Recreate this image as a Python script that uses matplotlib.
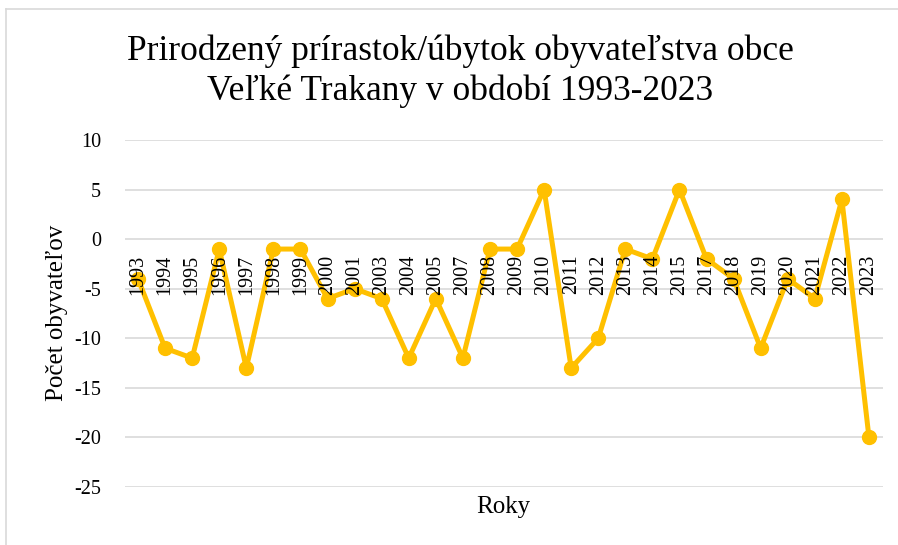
import matplotlib.pyplot as plt
from matplotlib.lines import Line2D

# data
roky = ["1993", "1994", "1995", "1996", "1997", "1998", "1999", "2000", "2001",
        "2003", "2004", "2005", "2007", "2008", "2009", "2010", "2011", "2012",
        "2013", "2014", "2015", "2017", "2018", "2019", "2020", "2021", "2022",
        "2023"]
prirastok = [-4, -11, -12, -1, -13, -1, -1, -6, -5,
             -6, -12, -6, -12, -1, -1, 5, -13, -10,
             -1, -2, 5, -2, -4, -11, -4, -6, 4,
             -20]
y_ticks = [10, 5, 0, -5, -10, -15, -20, -25]

plt.rcParams['font.family'] = ['Liberation Serif', 'DejaVu Serif']

W, H = 898, 545
fig = plt.figure(figsize=(W / 100, H / 100), dpi=100)
ax = fig.add_axes([124.5 / W, 1 - 487 / H, (882.5 - 124.5) / W, (487 - 140) / H])

# category axis crosses at 0, as in the original
ax.spines['bottom'].set_position(('data', 0))
for s in ax.spines.values():
    s.set_visible(False)
ax.set_axisbelow(False)  # year labels drawn over the line

x = list(range(len(roky)))
ax.plot(x, prirastok, color="#FFC000", linewidth=3.6, marker="o",
        markersize=10, zorder=2)

for t in y_ticks:
    ax.axhline(t, color="#D9D9D9", linewidth=1.2, zorder=0.5)

ax.set_xlim(-0.5, len(roky) - 0.5)
ax.set_ylim(-25, 10)
ax.set_yticks(y_ticks)
ax.set_yticklabels([str(t) for t in y_ticks], fontsize=14.5)
ax.set_xticks(x)
ax.set_xticklabels(roky, fontsize=14.5)
ax.tick_params(axis='x', length=0, pad=11, labelrotation=90)
ax.tick_params(axis='y', length=0, pad=17)

fig.text(460 / W, 1 - 71 / H,
         "Prirodzený prírastok/úbytok obyvateľstva obce\nVeľké Trakany v období 1993-2023",
         ha="center", va="center", fontsize=25.5, linespacing=1.25)
fig.text(503.5 / W, 1 - 507 / H, "Roky", ha="center", va="center", fontsize=18)
fig.text(57 / W, 1 - 313 / H, "Počet obyvateľov", ha="center", va="center",
         rotation=90, fontsize=18)

# light chart border (left and top edges)
fig.add_artist(Line2D([6 / W, 6 / W], [0, 1 - 9 / H], color="#D9D9D9", linewidth=1.2))
fig.add_artist(Line2D([6 / W, 1], [1 - 9 / H, 1 - 9 / H], color="#D9D9D9", linewidth=1.2))

fig.savefig("out.png", dpi=100)
